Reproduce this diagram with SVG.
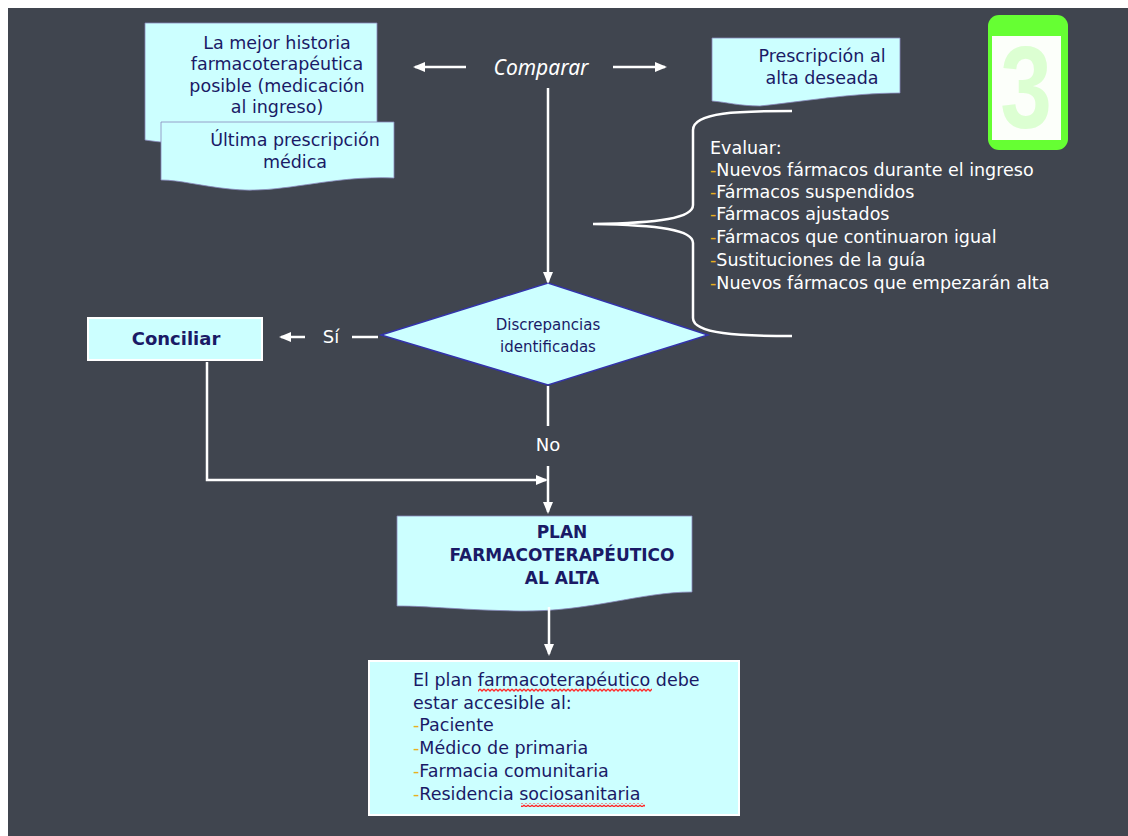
<svg xmlns="http://www.w3.org/2000/svg" width="1128" height="836" viewBox="0 0 1128 836">
<defs>
<marker id="ah" markerUnits="userSpaceOnUse" markerWidth="12" markerHeight="10" refX="10" refY="5" orient="auto">
<path d="M0,0 L12,5 L0,10 z" fill="#ffffff"/>
</marker>
<pattern id="sqp" patternUnits="userSpaceOnUse" x="0" y="0" width="4" height="4">
<path d="M0,1 L2,3 L4,1" stroke="#ff2a2a" stroke-width="1.3" fill="none"/>
</pattern>
</defs>
<style>
.box{fill:#ccffff;stroke:#8888bb;stroke-width:0.8}
.wbox{fill:#ccffff;stroke:#ffffff;stroke-width:2}
.t{font-family:"DejaVu Sans","Noto Sans",sans-serif;font-size:17.5px;fill:#1a1a66}
.c{text-anchor:middle}
.b{font-weight:bold}
.w{font-family:"DejaVu Sans","Noto Sans",sans-serif;font-size:17.5px;fill:#ffffff}
.d{fill:#e8b020}
.con{stroke:#ffffff;stroke-width:2.5;fill:none}
</style>
<rect x="0" y="0" width="1128" height="836" fill="#ffffff"/>
<rect x="8" y="8" width="1120" height="828" fill="#40454f"/>

<g id="badge">
<rect x="988" y="15" width="80" height="135" rx="11" fill="#66ff33"/>
<rect x="992" y="36" width="69" height="104" fill="#fcfffa"/>
<text x="1026" y="128" text-anchor="middle" transform="translate(1026 0) scale(0.8 1) translate(-1026 0)" style="font-family:'Liberation Sans',sans-serif;font-weight:bold;font-size:116px;fill:#dcffd2">3</text>
</g>

<g id="historia">
<path class="box" d="M145,23 H377 V130 C330,132 200,150 145,140 Z"/>
<text class="t c" x="277" y="49">La mejor historia</text>
<text class="t c" x="277" y="70">farmacoterapéutica</text>
<text class="t c" x="277" y="92">posible (medicación</text>
<text class="t c" x="277" y="113">al ingreso)</text>
</g>

<g id="ultima">
<path class="box" d="M161,122 H394 V178 C330,175 280,195 230,189 C200,186 180,180 161,180 Z"/>
<text class="t c" x="295" y="146">Última prescripción</text>
<text class="t c" x="295" y="168">médica</text>
</g>

<g id="comparar">
<text x="541" y="75" text-anchor="middle" style="font-family:'Noto Sans','DejaVu Sans',sans-serif;font-style:italic;font-size:21px;fill:#ffffff">Comparar</text>
</g>

<g id="prescripcion">
<path class="box" d="M712,38 H900 V93 C850,93 800,102 760,106 C740,106 725,102 712,101 Z"/>
<text class="t c" x="822" y="62">Prescripción al</text>
<text class="t c" x="822" y="84">alta deseada</text>
</g>

<g id="evaluar">
<text class="w" x="710" y="154">Evaluar:</text>
<text class="w" x="710" y="176"><tspan class="d">-</tspan>Nuevos fármacos durante el ingreso</text>
<text class="w" x="710" y="198"><tspan class="d">-</tspan>Fármacos suspendidos</text>
<text class="w" x="710" y="220"><tspan class="d">-</tspan>Fármacos ajustados</text>
<text class="w" x="710" y="243"><tspan class="d">-</tspan>Fármacos que continuaron igual</text>
<text class="w" x="710" y="266"><tspan class="d">-</tspan>Sustituciones de la guía</text>
<text class="w" x="710" y="289"><tspan class="d">-</tspan>Nuevos fármacos que empezarán alta</text>
</g>

<g id="conciliar">
<rect class="wbox" x="88" y="318" width="174" height="42"/>
<text class="t c b" x="176" y="345" style="font-size:18px">Conciliar</text>
</g>

<g id="discrepancias">
<path d="M381,335 L548,283 L708,335 L548,385 Z" fill="#ccffff" stroke="#3333aa" stroke-width="1.5"/>
<text class="t c" x="548" y="330" style="font-size:15px">Discrepancias</text>
<text class="t c" x="548" y="352" style="font-size:15px">identificadas</text>
</g>

<g id="plan">
<path class="box" d="M397,516 H692 V592 C640,592 590,612 520,611 C460,610 430,606 397,606 Z"/>
<text class="t c b" x="562" y="538" style="font-size:17px">PLAN</text>
<text class="t c b" x="562" y="561" style="font-size:17px">FARMACOTERAPÉUTICO</text>
<text class="t c b" x="562" y="584" style="font-size:17px">AL ALTA</text>
</g>

<g id="accesible">
<rect class="wbox" x="369" y="661" width="370" height="154"/>
<text class="t" x="413" y="686">El plan farmacoterapéutico debe</text>
<text class="t" x="413" y="709">estar accesible al:</text>
<text class="t" x="413" y="731"><tspan class="d">-</tspan>Paciente</text>
<text class="t" x="413" y="754"><tspan class="d">-</tspan>Médico de primaria</text>
<text class="t" x="413" y="777"><tspan class="d">-</tspan>Farmacia comunitaria</text>
<text class="t" x="413" y="800"><tspan class="d">-</tspan>Residencia sociosanitaria</text>
<rect x="478" y="688" width="174" height="4" fill="url(#sqp)"/>
<rect x="521" y="803" width="124" height="4" fill="url(#sqp)"/>
</g>

<g id="connectors">
<line class="con" x1="466" y1="67" x2="415" y2="67" marker-end="url(#ah)"/>
<line class="con" x1="613" y1="67" x2="665" y2="67" marker-end="url(#ah)"/>
<line class="con" x1="548" y1="88" x2="548" y2="282" marker-end="url(#ah)"/>
<path class="con" d="M792,111 C740,111 693,112 693,130 V205 C693,218 660,223 593,224 C660,225 693,230 693,243 V318 C693,334 740,336 792,336"/>
<line class="con" x1="378" y1="337" x2="352" y2="337"/>
<line class="con" x1="305" y1="337" x2="281" y2="337" marker-end="url(#ah)"/>
<text class="w" x="331" y="343" text-anchor="middle" style="font-size:18px">Sí</text>
<line class="con" x1="548" y1="386" x2="548" y2="426"/>
<text class="w" x="548" y="451" text-anchor="middle" style="font-size:18px">No</text>
<line class="con" x1="548" y1="466" x2="548" y2="512" marker-end="url(#ah)"/>
<path class="con" d="M207,362 V480 H546" marker-end="url(#ah)"/>
<line class="con" x1="549" y1="607" x2="549" y2="654" marker-end="url(#ah)"/>
</g>
</svg>
